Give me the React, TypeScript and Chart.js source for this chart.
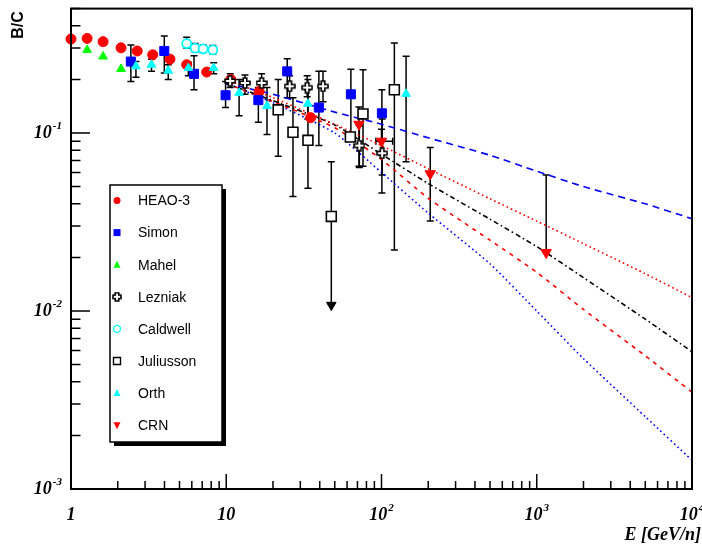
import React, { useEffect, useRef } from "react";
import { Chart, registerables } from "chart.js";
Chart.register(...registerables);

// ---------- data (E in GeV/n, B/C ratio) ----------
const heaoE = [1.0, 1.27, 1.61, 2.1, 2.67, 3.36, 4.34, 5.56, 7.48, 10.7, 16.3, 35];
const heaoBC = [0.337, 0.34, 0.326, 0.301, 0.289, 0.275, 0.26, 0.242, 0.22, 0.2, 0.171, 0.122];

const simonE = [2.43, 3.99, 6.2, 9.9, 16.1, 24.7, 39.5, 63.5, 100.6];
const simonBC = [0.252, 0.289, 0.215, 0.163, 0.153, 0.222, 0.139, 0.165, 0.129];
const simonLo = [0.195, 0.217, 0.175, 0.139, 0.115, 0.158, 0.085, 0.093, 0.046];
const simonHi = [0.312, 0.351, 0.272, 0.195, 0.18, 0.261, 0.222, 0.228, 0.175];

const mahelE = [1.27, 1.61, 2.1];
const mahelBC = [0.293, 0.269, 0.229];

const lezE = [10.6, 13.2, 16.9, 25.6, 33.2, 42, 72, 101];
const lezBC = [0.196, 0.191, 0.191, 0.183, 0.18, 0.183, 0.085, 0.077];
const lezLo = [0.18, 0.165, 0.17, 0.158, 0.16, 0.15, 0.064, 0.058];
const lezHi = [0.215, 0.212, 0.215, 0.21, 0.21, 0.222, 0.11, 0.12];

const caldE = [5.56, 6.3, 7.1, 8.2];
const caldBC = [0.318, 0.3, 0.297, 0.293];
const caldLo = [0.3, 0.285, 0.283, 0.278];
const caldHi = [0.345, 0.318, 0.312, 0.31];

const julE = [21.6, 26.9, 33.6, 47.5, 63, 76, 121];
const julBC = [0.135, 0.101, 0.091, 0.034, 0.095, 0.128, 0.175];
const julLo = [0.074, 0.044, 0.049, 0.0108, 0.09, 0.065, 0.022];
const julHi = [0.2, 0.158, 0.2, 0.069, 0.1, 0.227, 0.32];
const julArrowE = [47.5];
const julArrowBC = [0.0108];

const orthE = [2.62, 3.3, 4.23, 5.7, 8.3, 12.1, 18.3, 33.5, 144];
const orthBC = [0.237, 0.242, 0.224, 0.232, 0.232, 0.168, 0.142, 0.146, 0.166];
const orthLo = [0.206, 0.222, 0.2, 0.21, 0.215, 0.125, 0.098, 0.12, 0.069];
const orthHi = [0.252, 0.26, 0.242, 0.25, 0.248, 0.2, 0.18, 0.175, 0.27];

const crnE = [71.6, 100, 206, 1150];
const crnBC = [0.112, 0.09, 0.059, 0.0213];
const crnLo = [0.065, 0.075, 0.032, null];
const crnHi = [0.14, 0.105, 0.083, 0.058];
const crnXLo = [null, 92, null, null];
const crnXHi = [null, 118, null, null];

// model curves
const modelE = [10, 20, 50, 100, 200, 500, 1000, 2000, 5000, 10000];
const blueDashed = [0.19, 0.165, 0.131, 0.112, 0.094, 0.075, 0.061, 0.05, 0.04, 0.033];
const redDotted = [0.2, 0.158, 0.112, 0.085, 0.063, 0.0427, 0.032, 0.0239, 0.0162, 0.0119];
const blackDashDot = [0.19, 0.152, 0.111, 0.076, 0.052, 0.0328, 0.023, 0.0154, 0.009, 0.0059];
const redDashed = [0.19, 0.15, 0.107, 0.071, 0.043, 0.025, 0.0165, 0.0102, 0.0056, 0.0035];
const blueDotted = [0.19, 0.148, 0.1, 0.06, 0.0355, 0.0184, 0.01, 0.0054, 0.00255, 0.00145];

const xTickValues = [1, 10, 100, 1000, 10000];
const xTickExp = ["", "", "2", "3", "4"];
const xTickBase = ["1", "10", "10", "10", "10"];
const yTickValues = [0.001, 0.01, 0.1];
const yTickExp = ["-3", "-2", "-1"];

const legendLabels = ["HEAO-3", "Simon", "Mahel", "Lezniak", "Caldwell", "Juliusson", "Orth", "CRN"];
const legendKinds = ["circle", "square", "triGreen", "cross", "circleOpen", "squareOpen", "triCyan", "triDown"];

const xMin = 1, xMax = 10000, yMin = 0.001, yMax = 0.5;

function pts(E: number[], V: number[]) {
  return E.map((e, i) => ({ x: e, y: V[i] }));
}

function makeCross(size: number) {
  const c = document.createElement("canvas");
  c.width = size; c.height = size;
  const g = c.getContext("2d")!;
  const m = size / 2, a = 1.8, L = size / 2 - 1;
  g.beginPath();
  g.moveTo(m - a, m - L); g.lineTo(m + a, m - L); g.lineTo(m + a, m - a);
  g.lineTo(m + L, m - a); g.lineTo(m + L, m + a); g.lineTo(m + a, m + a);
  g.lineTo(m + a, m + L); g.lineTo(m - a, m + L); g.lineTo(m - a, m + a);
  g.lineTo(m - L, m + a); g.lineTo(m - L, m - a); g.lineTo(m - a, m - a);
  g.closePath();
  g.fillStyle = "#fff"; g.fill();
  g.strokeStyle = "#000"; g.lineWidth = 1.6; g.stroke();
  return c;
}

const mainFont = "bold italic 18px 'Liberation Serif'";
const supFont = "bold italic 11px 'Liberation Serif'";

function drawPow(ctx: CanvasRenderingContext2D, base: string, exp: string, x: number, y: number, align: string) {
  ctx.font = mainFont;
  const wb = ctx.measureText(base).width;
  ctx.font = supFont;
  const we = exp ? ctx.measureText(exp).width + 1 : 0;
  const total = wb + we;
  const left = align === "center" ? x - total / 2 : align === "right" ? x - total : x;
  ctx.textAlign = "left";
  ctx.textBaseline = "middle";
  ctx.fillStyle = "#000";
  ctx.font = mainFont;
  ctx.fillText(base, left, y);
  if (exp) {
    ctx.font = supFont;
    ctx.fillText(exp, left + wb + 1, y - 7);
  }
}

function drawMarker(ctx: CanvasRenderingContext2D, kind: string, x: number, y: number) {
  ctx.save();
  ctx.lineWidth = 1.4;
  ctx.beginPath();
  if (kind === "circle") {
    ctx.fillStyle = "#ff0000"; ctx.arc(x, y, 3.5, 0, Math.PI * 2); ctx.fill();
  } else if (kind === "square") {
    ctx.fillStyle = "#0000ff"; ctx.fillRect(x - 3.5, y - 3.5, 7, 7);
  } else if (kind === "triGreen" || kind === "triCyan") {
    ctx.fillStyle = kind === "triGreen" ? "#00ff00" : "#00ffff";
    ctx.moveTo(x, y - 4); ctx.lineTo(x + 3.5, y + 3); ctx.lineTo(x - 3.5, y + 3); ctx.closePath(); ctx.fill();
  } else if (kind === "triDown") {
    ctx.fillStyle = "#ff0000";
    ctx.moveTo(x, y + 4); ctx.lineTo(x + 3.5, y - 3); ctx.lineTo(x - 3.5, y - 3); ctx.closePath(); ctx.fill();
  } else if (kind === "cross") {
    ctx.drawImage(makeCross(10), x - 5, y - 5);
  } else if (kind === "circleOpen") {
    ctx.strokeStyle = "#00ffff"; ctx.fillStyle = "#fff"; ctx.arc(x, y, 3.5, 0, Math.PI * 2); ctx.fill(); ctx.stroke();
  } else if (kind === "squareOpen") {
    ctx.strokeStyle = "#000"; ctx.fillStyle = "#fff"; ctx.rect(x - 3.5, y - 3.5, 7, 7); ctx.fill(); ctx.stroke();
  }
  ctx.restore();
}

const errorSets = [
  { E: simonE, V: simonBC, lo: simonLo, hi: simonHi },
  { E: lezE, V: lezBC, lo: lezLo, hi: lezHi },
  { E: caldE, V: caldBC, lo: caldLo, hi: caldHi },
  { E: julE, V: julBC, lo: julLo, hi: julHi },
  { E: orthE, V: orthBC, lo: orthLo, hi: orthHi },
  { E: crnE, V: crnBC, lo: crnLo, hi: crnHi },
];

const errorPlugin = {
  id: "errbars",
  beforeDatasetsDraw(chart: any) {
    const { ctx, scales } = chart;
    const xs = scales.x, ys = scales.y;
    ctx.save();
    ctx.strokeStyle = "#000";
    ctx.lineWidth = 1.5;
    const cap = 3.5;
    for (const s of errorSets) {
      for (let i = 0; i < s.E.length; i++) {
        const lo = s.lo[i], hi = s.hi[i];
        if (lo == null && hi == null) continue;
        const px = xs.getPixelForValue(s.E[i]);
        const yl = ys.getPixelForValue(lo == null ? s.V[i] : lo);
        const yh = ys.getPixelForValue(hi == null ? s.V[i] : hi);
        ctx.beginPath();
        ctx.moveTo(px, yh); ctx.lineTo(px, yl);
        if (hi != null) { ctx.moveTo(px - cap, yh); ctx.lineTo(px + cap, yh); }
        if (lo != null) { ctx.moveTo(px - cap, yl); ctx.lineTo(px + cap, yl); }
        ctx.stroke();
      }
    }
    // horizontal error bars (CRN)
    for (let i = 0; i < crnE.length; i++) {
      const a = crnXLo[i], b = crnXHi[i];
      if (a == null || b == null) continue;
      const py = ys.getPixelForValue(crnBC[i]);
      const x1 = xs.getPixelForValue(a), x2 = xs.getPixelForValue(b);
      ctx.beginPath();
      ctx.moveTo(x1, py); ctx.lineTo(x2, py);
      ctx.moveTo(x1, py - cap); ctx.lineTo(x1, py + cap);
      ctx.moveTo(x2, py - cap); ctx.lineTo(x2, py + cap);
      ctx.stroke();
    }
    ctx.restore();
  },
};

const framePlugin = {
  id: "rootframe",
  afterDraw(chart: any) {
    const { ctx, chartArea, scales } = chart;
    const xs = scales.x, ys = scales.y;
    const { left, right, top, bottom } = chartArea;
    ctx.save();
    // frame
    ctx.strokeStyle = "#000";
    ctx.lineWidth = 2;
    ctx.strokeRect(left, top, right - left, bottom - top);
    // x ticks
    ctx.lineWidth = 1.5;
    ctx.beginPath();
    for (let d = 0; d < 4; d++) {
      for (let m = 1; m <= 9; m++) {
        const v = m * Math.pow(10, d);
        const px = xs.getPixelForValue(v);
        const len = m === 1 ? 15 : 8;
        ctx.moveTo(px, bottom); ctx.lineTo(px, bottom - len);
      }
    }
    // y ticks
    for (let d = -3; d <= -1; d++) {
      for (let m = 1; m <= 9; m++) {
        const v = m * Math.pow(10, d);
        if (v > yMax + 1e-9) continue;
        const py = ys.getPixelForValue(v);
        const len = m === 1 ? 19 : 9.5;
        ctx.moveTo(left, py); ctx.lineTo(left + len, py);
      }
    }
    ctx.stroke();
    // tick labels
    for (let i = 0; i < xTickValues.length; i++) {
      drawPow(ctx, xTickBase[i], xTickExp[i], xs.getPixelForValue(xTickValues[i]), 515, "center");
    }
    for (let i = 0; i < yTickValues.length; i++) {
      drawPow(ctx, "10", yTickExp[i], 62, ys.getPixelForValue(yTickValues[i]), "right");
    }
    // axis titles
    ctx.fillStyle = "#000";
    ctx.font = mainFont;
    ctx.textAlign = "right";
    ctx.textBaseline = "alphabetic";
    ctx.fillText("E [GeV/n]", 701, 540);
    ctx.save();
    ctx.translate(19, 25);
    ctx.rotate(-Math.PI / 2);
    ctx.font = "bold 16px 'Liberation Sans'";
    ctx.textAlign = "center";
    ctx.textBaseline = "middle";
    ctx.fillText("B/C", 0, 0);
    ctx.restore();
    // legend
    const lx = 110, ly = 185, lw = 112, lh = 257;
    ctx.fillStyle = "#000";
    ctx.fillRect(lx + 4, ly + lh, lw, 4);
    ctx.fillRect(lx + lw, ly + 4, 4, lh);
    ctx.fillStyle = "#fff";
    ctx.fillRect(lx, ly, lw, lh);
    ctx.strokeStyle = "#000";
    ctx.lineWidth = 1.5;
    ctx.strokeRect(lx, ly, lw, lh);
    for (let i = 0; i < legendLabels.length; i++) {
      const yy = 200.5 + i * 32.1;
      drawMarker(ctx, legendKinds[i], 117, yy);
      ctx.fillStyle = "#000";
      ctx.font = "14px 'Liberation Sans'";
      ctx.textAlign = "left";
      ctx.textBaseline = "middle";
      ctx.fillText(legendLabels[i], 138, yy + 1);
    }
    ctx.restore();
  },
};

export default function App() {
  const ref = useRef<HTMLCanvasElement | null>(null);
  useEffect(() => {
    if (!ref.current) return;
    const crossImg = makeCross(12);
    const lineDs = (data: number[], color: string, dash: number[]) => ({
      type: "line" as const,
      data: pts(modelE, data),
      showLine: true,
      borderColor: color,
      borderWidth: 1.6,
      borderDash: dash,
      pointRadius: 0,
      fill: false,
      tension: 0.2,
      order: 10,
    });
    const mk = (E: number[], V: number[], style: any, r: number, bg: string, bc: string, bw: number, rot = 0) => ({
      type: "scatter" as const,
      data: pts(E, V),
      pointStyle: style,
      pointRadius: r,
      pointBackgroundColor: bg,
      pointBorderColor: bc,
      pointBorderWidth: bw,
      pointRotation: rot,
      showLine: false,
      clip: false as any,
      order: 1,
    });
    const chart = new Chart(ref.current, {
      type: "scatter",
      data: {
        datasets: [
          lineDs(blueDashed, "#0000ff", [7, 5]),
          lineDs(redDotted, "#ff0000", [1.6, 3]),
          lineDs(blackDashDot, "#000000", [5, 3, 1.6, 3]),
          lineDs(redDashed, "#ff0000", [4, 5]),
          lineDs(blueDotted, "#0000ff", [1.6, 3]),
          mk(caldE, caldBC, "circle", 4.5, "#ffffff", "#00ffff", 1.8),
          mk(julE, julBC, "rect", 7, "#ffffff", "#000000", 1.6),
          mk(julArrowE, julArrowBC, "triangle", 5.5, "#000000", "#000000", 1, 180),
          mk(lezE, lezBC, crossImg, 6, "#fff", "#000", 1),
          mk(mahelE, mahelBC, "triangle", 5, "#00ff00", "#00ff00", 1),
          mk(orthE, orthBC, "triangle", 5, "#00ffff", "#00ffff", 1),
          mk(simonE, simonBC, "rect", 6.4, "#0000ff", "#0000ff", 1),
          mk(heaoE, heaoBC, "circle", 5, "#ff0000", "#ff0000", 1),
          mk(crnE, crnBC, "triangle", 6, "#ff0000", "#ff0000", 1, 180),
        ] as any,
      },
      options: {
        responsive: false,
        animation: false,
        devicePixelRatio: 1,
        layout: { padding: { left: 71, top: 3, right: 10, bottom: 55 } },
        scales: {
          x: { type: "logarithmic", min: xMin, max: xMax, display: false },
          y: { type: "logarithmic", min: yMin, max: yMax, display: false },
        },
        plugins: { legend: { display: false }, tooltip: { enabled: false } },
        events: [],
      },
      plugins: [errorPlugin, framePlugin],
    });
    return () => chart.destroy();
  }, []);
  return (
    <div style={{ position: "absolute", left: 0, top: 0, width: 702, height: 544, background: "#fff" }}>
      <canvas ref={ref} width={702} height={544} style={{ width: 702, height: 544, display: "block" }} />
    </div>
  );
}
